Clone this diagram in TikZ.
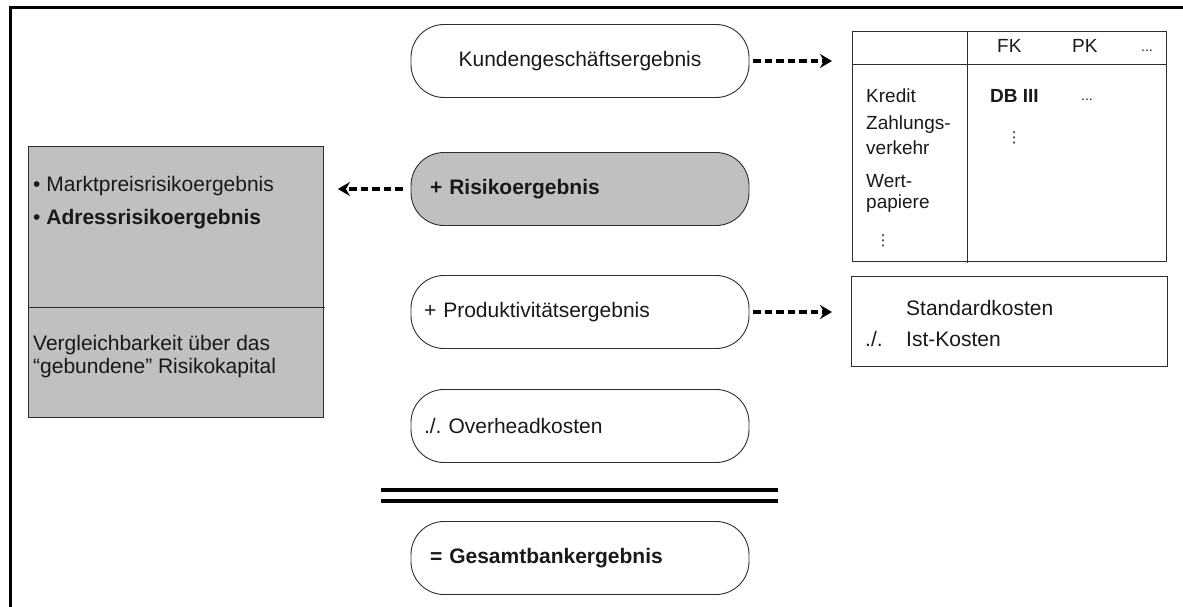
\documentclass[tikz,border=0pt]{standalone}
\usepackage{fontspec}
\setmainfont{Liberation Sans}
\newfontfamily\dejavu{DejaVu Sans}
\usetikzlibrary{arrows.meta}
\definecolor{boxgray}{RGB}{192,192,192}
\definecolor{linegray}{RGB}{45,45,45}
\definecolor{txt}{RGB}{25,25,25}
\frenchspacing
\begin{document}
\begin{tikzpicture}[x=1pt,y=-1pt,
  every node/.style={text=txt},
  pill/.style={draw=linegray, line width=0.9pt, rounded corners=33pt,
    minimum width=338pt, minimum height=73pt, inner ysep=0pt,
    font=\fontsize{21}{24}\selectfont},
  lpill/.style={pill, text width=#1, align=left},
  frameline/.style={line width=3pt, black},
  thinbox/.style={draw=linegray, line width=0.9pt, inner sep=0pt},
  lbl/.style={anchor=west, inner sep=0pt, font=\fontsize{21}{24}\selectfont},
  tlbl/.style={anchor=west, inner sep=0pt, font=\fontsize{19}{23}\selectfont},
  vdot/.style={inner sep=0pt, font=\dejavu\fontsize{15}{17}\selectfont},
  arr/.style={line width=3.2pt, dash pattern=on 7.5pt off 4pt,
    -{Stealth[length=12pt,width=14pt,inset=4pt]}},
  dbl/.style={line width=4pt, black}
]
\useasboundingbox (0,0) rectangle (1183,607);

% frame (cropped: top and left edges only)
\draw[frameline] (10,8) -- (1183,8);
\draw[frameline] (10,6.5) -- (10,607);

% central pills
\node[pill] (k) at (580,61) {Kundengesch\"aftsergebnis};
\node[lpill=300pt, inner xsep=19pt, fill=boxgray] (r) at (580,189) {\textbf{+ Risikoergebnis}};
\node[lpill=312pt, inner xsep=13pt] (p) at (580,312) {+ Produktivit\"atsergebnis};
\node[lpill=312pt, inner xsep=13pt] (o) at (580,426) {./. Overheadkosten};
\node[lpill=300pt, inner xsep=19pt] (g) at (580,558) {\textbf{= Gesamtbankergebnis}};

% double rule
\draw[dbl] (381,490) -- (778,490);
\draw[dbl] (381,500.5) -- (778,500.5);

% left grey box
\node[thinbox, fill=boxgray, minimum width=295pt, minimum height=271pt, anchor=north west] (lb) at (28,146) {};
\draw[draw=linegray, line width=0.9pt] (28,307) -- (325,307);
\node[lbl] (l1) at (33,186) {\textbullet\ Marktpreisrisikoergebnis};
\node[lbl] (l2) at (33,219) {\textbullet\ \textbf{Adressrisikoergebnis}};
\node[lbl] (l3) at (33,345) {Vergleichbarkeit \"uber das};
\node[lbl] (l4) at (33,368) {``gebundene'' Risikokapital};

% table (right, top)
\node[thinbox, minimum width=314pt, minimum height=230pt, anchor=north west] (tab) at (852,31) {};
\draw[draw=linegray, line width=0.9pt] (852,64) -- (1166,64);
\draw[draw=linegray, line width=0.9pt] (967,31) -- (967,263);
\node[tlbl] (fk) at (997,46) {FK};
\node[tlbl] (pk) at (1072,46) {PK};
\node[tlbl, font=\fontsize{14}{16}\selectfont] (hd) at (1141,51) {...};
\node[tlbl] (kr) at (866,96) {Kredit};
\node[tlbl] (db) at (990,96) {\textbf{DB III}};
\node[tlbl, font=\fontsize{14}{16}\selectfont] (d2) at (1081,100) {...};
\node[tlbl] (za) at (866,125) {Zahlungs-};
\node[tlbl] (ve) at (866,148) {verkehr};
\node[vdot] (v1) at (1014,138) {⋮};
\node[tlbl] (we) at (866,181) {Wert-};
\node[tlbl] (pa) at (866,204) {papiere};
\node[vdot] (v2) at (883,241) {⋮};

% cost box (right, middle)
\node[thinbox, minimum width=316pt, minimum height=90pt, anchor=north west] (sk) at (851,276) {};
\node[lbl] (s1) at (906,308) {Standardkosten};
\node[lbl] (s2) at (865,339) {./.};
\node[lbl] (s3) at (906,339) {Ist-Kosten};

% dashed arrows
\draw[arr, shorten <=4pt, shorten >=20pt] (k.east) -- (k.east -| tab.west);
\draw[arr, shorten <=8pt, shorten >=14pt] (r.west) -- (r.west -| lb.east);
\draw[arr, shorten <=4pt, shorten >=19pt] (p.east) -- (p.east -| sk.west);
\end{tikzpicture}
\end{document}
